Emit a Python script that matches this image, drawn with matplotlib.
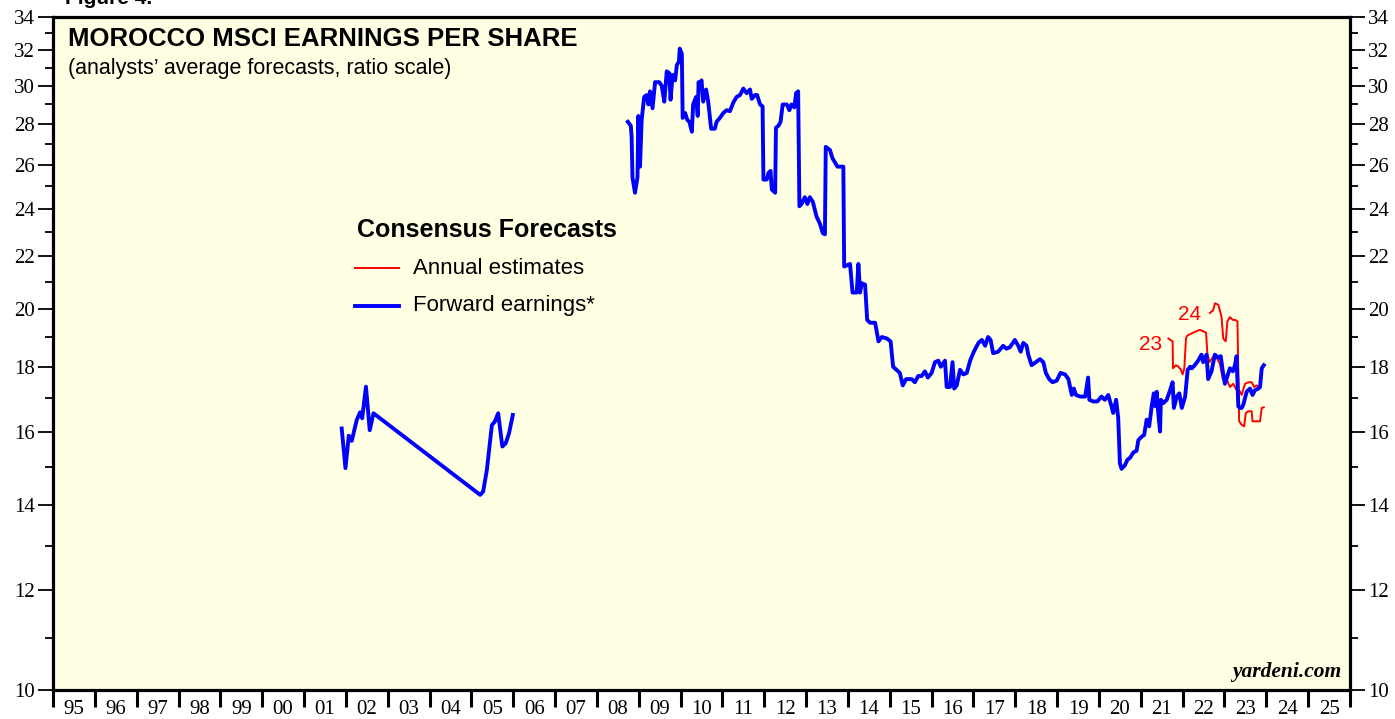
import numpy as np
import matplotlib
matplotlib.use("Agg")
import matplotlib.pyplot as plt
from matplotlib.ticker import FixedLocator, NullFormatter, FixedFormatter

# ---------------- data (decimal years, EPS) ----------------
fwd1_dates = [2001.90, 2001.99, 2002.07, 2002.14, 2002.26, 2002.34, 2002.39, 2002.48,
              2002.57, 2002.66, 2005.21, 2005.28, 2005.37, 2005.49, 2005.56, 2005.64,
              2005.74, 2005.82, 2005.90, 2005.99]
fwd1_vals = [16.09, 14.97, 15.88, 15.73, 16.34, 16.57, 16.39, 17.36,
             16.04, 16.54, 14.26, 14.34, 14.92, 16.19, 16.29, 16.54,
             15.57, 15.66, 15.95, 16.49]

fwd2_dates = [2008.74, 2008.81, 2008.83, 2008.85, 2008.91, 2008.97, 2008.99, 2009.03, 2009.07,
              2009.13, 2009.19, 2009.23, 2009.27, 2009.33, 2009.39, 2009.49, 2009.55, 2009.61,
              2009.67, 2009.73, 2009.76, 2009.81, 2009.87, 2009.91, 2009.96, 2009.98, 2010.03,
              2010.05, 2010.11, 2010.16, 2010.21, 2010.27, 2010.30, 2010.37, 2010.41, 2010.43,
              2010.46, 2010.50, 2010.54, 2010.61, 2010.66, 2010.73, 2010.82, 2010.86, 2010.94,
              2011.02, 2011.10, 2011.18, 2011.26, 2011.34, 2011.42, 2011.50, 2011.58, 2011.66,
              2011.70, 2011.78, 2011.83, 2011.90, 2011.96, 2011.98, 2012.06, 2012.10, 2012.15,
              2012.18, 2012.26, 2012.28, 2012.34, 2012.39, 2012.44, 2012.54, 2012.60, 2012.65,
              2012.72, 2012.76, 2012.81, 2012.84, 2012.89, 2012.97, 2013.03, 2013.09, 2013.16,
              2013.25, 2013.33, 2013.40, 2013.45, 2013.47, 2013.57, 2013.63, 2013.69, 2013.75,
              2013.89, 2013.91, 2014.05, 2014.11, 2014.21, 2014.25, 2014.29, 2014.33, 2014.41,
              2014.46, 2014.53, 2014.65, 2014.73, 2014.81, 2014.93, 2015.02, 2015.08, 2015.16,
              2015.24, 2015.31, 2015.39, 2015.52, 2015.60, 2015.68, 2015.76, 2015.84, 2015.91,
              2016.00, 2016.08, 2016.16, 2016.22, 2016.32, 2016.36, 2016.44, 2016.50, 2016.54,
              2016.60, 2016.68, 2016.76, 2016.84, 2016.92, 2017.01, 2017.12, 2017.20, 2017.28,
              2017.35, 2017.41, 2017.47, 2017.59, 2017.71, 2017.79, 2017.87, 2017.99, 2018.07,
              2018.13, 2018.19, 2018.27, 2018.31, 2018.39, 2018.49, 2018.59, 2018.67, 2018.73,
              2018.81, 2018.89, 2018.99, 2019.08, 2019.19, 2019.27, 2019.35, 2019.40, 2019.45,
              2019.55, 2019.67, 2019.74, 2019.77, 2019.86, 2019.96, 2020.06, 2020.14, 2020.22,
              2020.30, 2020.34, 2020.41, 2020.46, 2020.50, 2020.54, 2020.62, 2020.68, 2020.74,
              2020.82, 2020.90, 2020.94, 2021.02, 2021.08, 2021.14, 2021.20, 2021.26, 2021.31,
              2021.35, 2021.38, 2021.42, 2021.46, 2021.48, 2021.54, 2021.62, 2021.70, 2021.76,
              2021.79, 2021.86, 2021.92, 2021.98, 2022.06, 2022.12, 2022.18, 2022.22, 2022.29,
              2022.37, 2022.45, 2022.49, 2022.57, 2022.61, 2022.69, 2022.77, 2022.85, 2022.91,
              2022.96, 2023.01, 2023.07, 2023.13, 2023.20, 2023.25, 2023.29, 2023.33, 2023.37,
              2023.41, 2023.45, 2023.53, 2023.61, 2023.67, 2023.73, 2023.81, 2023.85, 2023.89,
              2023.94]
fwd2_vals = [28.1, 27.9, 27.35, 25.4, 24.7, 25.4, 28.4, 25.9, 28.2,
             29.4, 29.5, 29.0, 29.7, 28.8, 30.2, 30.2, 30.0, 29.15,
             30.8, 30.7, 29.25, 30.6, 30.3, 31.15, 31.35, 32.1, 31.8,
             28.3, 28.55, 28.2, 28.1, 27.6, 29.0, 29.4, 28.4, 30.2,
             29.95, 30.3, 29.15, 29.8, 29.15, 27.75, 27.75, 28.1, 28.3,
             28.55, 28.7, 28.65, 29.1, 29.4, 29.5, 29.85, 29.6, 29.8,
             29.3, 29.5, 29.5, 29.0, 28.9, 25.3, 25.3, 25.6, 25.7,
             24.85, 24.7, 27.8, 27.9, 28.1, 29.0, 29.0, 28.7, 29.0,
             28.85, 29.6, 29.7, 24.1, 24.2, 24.5, 24.2, 24.5, 24.3,
             23.65, 23.35, 22.95, 22.9, 26.85, 26.7, 26.3, 26.1, 25.9,
             25.9, 21.6, 21.7, 20.6, 20.6, 21.7, 20.6, 20.95, 20.9,
             19.6, 19.5, 19.5, 18.85, 19.0, 18.95, 18.85, 18.0, 17.9,
             17.8, 17.4, 17.6, 17.6, 17.5, 17.7, 17.7, 17.85, 17.65,
             17.8, 18.15, 18.2, 18.0, 18.2, 17.35, 17.35, 18.15, 17.3,
             17.4, 17.9, 17.75, 17.8, 18.2, 18.5, 18.8, 18.9, 18.7,
             19.0, 18.9, 18.45, 18.5, 18.7, 18.6, 18.65, 18.9, 18.7,
             18.5, 18.8, 18.7, 18.4, 18.05, 18.15, 18.25, 18.15, 17.8,
             17.6, 17.5, 17.55, 17.8, 17.75, 17.6, 17.1, 17.3, 17.1,
             17.05, 17.05, 17.65, 16.95, 16.9, 16.9, 17.05, 16.95, 17.1,
             16.75, 16.55, 16.95, 16.4, 15.1, 14.95, 15.05, 15.2, 15.25,
             15.4, 15.45, 15.75, 15.85, 15.9, 16.35, 16.15, 16.75, 17.15,
             16.75, 17.2, 16.5, 16.0, 16.95, 16.85, 16.95, 17.25, 17.5,
             16.7, 17.05, 17.15, 16.7, 17.05, 17.9, 18.0, 17.95, 18.05,
             18.2, 18.4, 18.15, 18.4, 17.6, 17.85, 18.4, 18.3, 18.35,
             17.85, 17.45, 17.7, 17.95, 17.85, 18.05, 18.35, 16.75, 16.7,
             16.7, 16.8, 17.2, 17.3, 17.1, 17.25, 17.3, 17.35, 17.95,
             18.05]

est23_dates = [2021.66, 2021.71, 2021.76, 2021.77, 2021.84, 2021.90, 2021.96, 2022.00,
               2022.04, 2022.08, 2022.11, 2022.18, 2022.25, 2022.33, 2022.41, 2022.49,
               2022.56, 2022.59, 2022.64, 2022.69, 2022.77, 2022.83, 2022.89, 2022.96,
               2023.05, 2023.13, 2023.21, 2023.29, 2023.35, 2023.41, 2023.49, 2023.57,
               2023.65, 2023.71, 2023.77, 2023.83]
est23_vals = [18.95, 18.9, 18.85, 17.95, 18.05, 18.0, 17.9, 17.75,
              17.95, 18.95, 19.05, 19.1, 19.15, 19.2, 19.25, 19.2,
              19.15, 18.45, 18.15, 18.25, 18.4, 18.25, 18.1, 17.6,
              17.6, 17.35, 17.45, 17.25, 17.25, 17.1, 17.45, 17.5,
              17.5, 17.35, 17.4, 17.35]

est24_dates = [2022.65, 2022.73, 2022.77, 2022.85, 2022.89, 2022.93, 2022.97, 2023.03,
               2023.07, 2023.13, 2023.20, 2023.25, 2023.31, 2023.35, 2023.41, 2023.47,
               2023.51, 2023.57, 2023.65, 2023.67, 2023.77, 2023.85, 2023.89, 2023.94]
est24_vals = [19.85, 19.95, 20.2, 20.15, 19.95, 19.7, 18.95, 18.85,
              19.55, 19.7, 19.6, 19.6, 19.55, 16.3, 16.2, 16.15,
              16.55, 16.6, 16.6, 16.3, 16.3, 16.3, 16.7, 16.72]

year_labels = ["95", "96", "97", "98", "99", "00", "01", "02", "03", "04", "05", "06",
               "07", "08", "09", "10", "11", "12", "13", "14", "15", "16", "17", "18",
               "19", "20", "21", "22", "23", "24", "25"]
y_major = [10, 12, 14, 16, 18, 20, 22, 24, 26, 28, 30, 32, 34]
y_minor = [11, 13, 15, 17, 19, 21, 23, 25, 27, 29, 31, 33]

# ---------------- figure ----------------
BLUE = "#0000FF"
RED = "#FF0000"
BG = "#FFFFE3"
serif = "Liberation Serif"
sans = "Liberation Sans"

fig = plt.figure(figsize=(13.95, 7.19), dpi=100)
ax = fig.add_axes([53 / 1395, 29 / 719, (1350 - 53) / 1395, (690 - 17) / 719])
ax.set_facecolor(BG)

ax.plot(fwd1_dates, fwd1_vals, color=BLUE, lw=2.8, solid_joinstyle="round", zorder=3)
ax.plot(fwd2_dates, fwd2_vals, color=BLUE, lw=2.8, solid_joinstyle="round", zorder=3)
ax.plot(est23_dates, est23_vals, color=RED, lw=1.4, zorder=2)
ax.plot(est24_dates, est24_vals, color=RED, lw=1.4, zorder=2)

ax.set_yscale("log")
ax.set_ylim(10, 34)
x0 = 1995
x1 = x0 + len(year_labels)
ax.set_xlim(x0, x1)

# y axis
ax.yaxis.set_major_locator(FixedLocator(y_major))
ax.yaxis.set_major_formatter(FixedFormatter([str(v) for v in y_major]))
ax.yaxis.set_minor_locator(FixedLocator(y_minor))
ax.yaxis.set_minor_formatter(NullFormatter())
ax.tick_params(axis="y", which="major", direction="out", length=11, width=1.3,
               left=True, right=True, labelleft=True, labelright=True,
               labelsize=15, pad=2)
ax.tick_params(axis="y", which="minor", direction="out", length=6, width=1.3,
               left=True, right=True)

# x axis
yr_edges = list(range(x0, x1 + 1))
ax.xaxis.set_major_locator(FixedLocator(yr_edges))
ax.xaxis.set_major_formatter(NullFormatter())
ax.xaxis.set_minor_locator(FixedLocator([y + 0.5 for y in range(x0, x1)]))
ax.xaxis.set_minor_formatter(FixedFormatter(year_labels))
ax.tick_params(axis="x", which="major", direction="out", length=12, width=2.2)
ax.tick_params(axis="x", which="minor", length=0, labelsize=15, pad=7)
for t in ax.yaxis.get_major_ticks():
    t.label1.set_fontfamily(serif)
    t.label2.set_fontfamily(serif)
for t in ax.xaxis.get_minor_ticks():
    t.label1.set_fontfamily(serif)

for s in ax.spines.values():
    s.set_linewidth(2.3)
    s.set_color("black")

# titles
fig.text(68 / 1395, 1 - 27 / 719, "MOROCCO MSCI EARNINGS PER SHARE",
         fontsize=18.5, fontweight="bold", family=sans, va="top", ha="left")
fig.text(68 / 1395, 1 - 58 / 719, "(analysts\u2019 average forecasts, ratio scale)",
         fontsize=15.5, family=sans, va="top", ha="left")
fig.text(65 / 1395, 1 - 4 / 719, "Figure 4.", fontsize=15, fontweight="bold",
         family=sans, va="baseline", ha="left")

# legend (drawn manually like the original)
fig.text(357 / 1395, 1 - 230 / 719, "Consensus Forecasts", fontsize=18, fontweight="bold",
         family=sans, va="center", ha="left")
fig.text(413 / 1395, 1 - 268 / 719, "Annual estimates", fontsize=16,
         family=sans, va="center", ha="left")
fig.text(413 / 1395, 1 - 306 / 719, "Forward earnings*", fontsize=16,
         family=sans, va="center", ha="left")
fig.add_artist(plt.Line2D([355 / 1395, 399 / 1395], [1 - 268 / 719, 1 - 268 / 719],
                          color=RED, lw=1.4, transform=fig.transFigure))
fig.add_artist(plt.Line2D([355 / 1395, 399 / 1395], [1 - 306 / 719, 1 - 306 / 719],
                          color=BLUE, lw=2.8, transform=fig.transFigure))

# series labels
ax.text(est23_dates[0] - 0.14, 18.75, "23", color=RED, fontsize=15, family=sans,
        ha="right", va="center")
ax.text(est24_dates[0] - 0.2, 19.8, "24", color=RED, fontsize=15, family=sans,
        ha="right", va="center")

ax.text(0.9935, 0.012, "yardeni.com", transform=ax.transAxes, fontsize=15.5,
        fontweight="bold", fontstyle="italic", family=serif, ha="right", va="bottom")

fig.savefig("out.png", dpi=100, facecolor="white")
